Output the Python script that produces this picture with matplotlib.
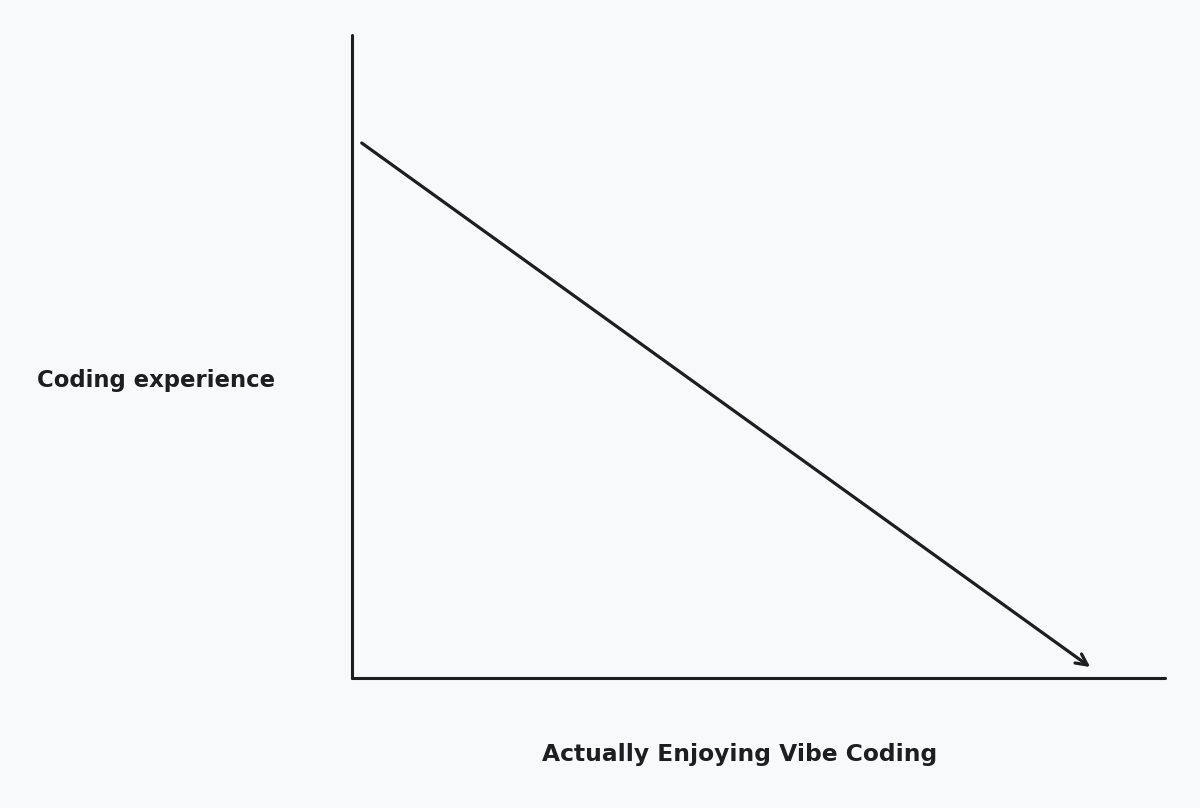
import matplotlib.pyplot as plt

# 手绘风格示意图：经验越多，越不享受 vibe coding
enjoyment = [0.012, 0.908]      # x: Actually Enjoying Vibe Coding
experience = [0.832, 0.017]     # y: Coding experience
x_label = "Actually Enjoying Vibe Coding"
y_label = "Coding experience"

ink = "#1e1e1e"
bg = "#f8f9fb"

fig = plt.figure(figsize=(12, 8.08), dpi=100)
fig.patch.set_facecolor(bg)
ax = fig.add_axes([352 / 1200, 1 - 678 / 808, 813 / 1200, 643 / 808])
ax.set_facecolor(bg)
ax.set_xlim(0, 1)
ax.set_ylim(0, 1)

for s in ["top", "right"]:
    ax.spines[s].set_visible(False)
for s in ["left", "bottom"]:
    ax.spines[s].set_color(ink)
    ax.spines[s].set_linewidth(2.2)
    ax.spines[s].set_capstyle("round")
ax.set_xticks([])
ax.set_yticks([])

# 斜线 + 箭头
ax.annotate("", xy=(enjoyment[1], experience[1]), xytext=(enjoyment[0], experience[0]),
            arrowprops=dict(arrowstyle="->,head_length=0.8,head_width=0.4",
                            color=ink, lw=2.3, capstyle="round",
                            shrinkA=0, shrinkB=0))

font = dict(family=["DejaVu Sans"], fontweight="bold", color=ink)
fig.text(37 / 1200, 1 - 380 / 808, y_label, ha="left", va="center", fontsize=16.4, **font)
fig.text(740 / 1200, 1 - 755 / 808, x_label, ha="center", va="center", fontsize=16.8, **font)

fig.savefig("out.png", dpi=100, facecolor=bg)
